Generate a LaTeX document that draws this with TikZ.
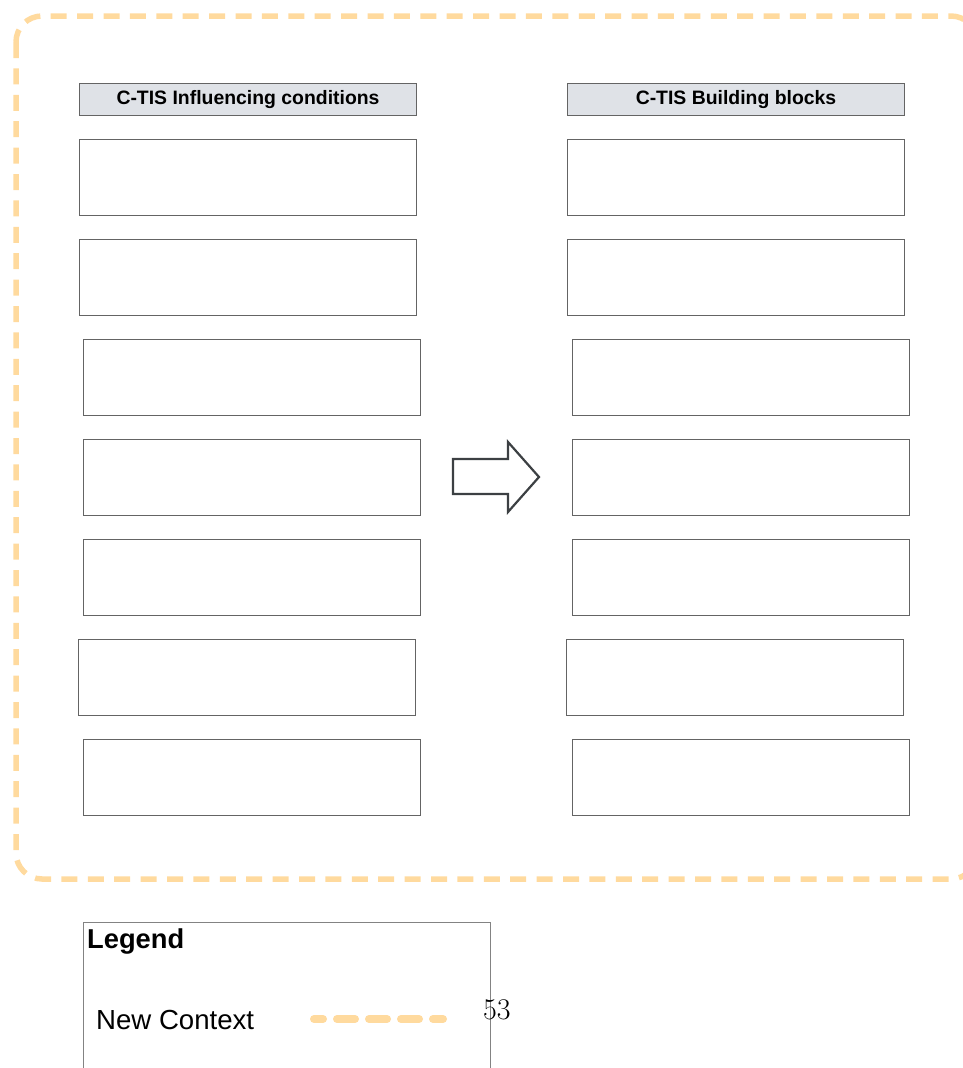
\documentclass[tikz,border=0pt]{standalone}
\usepackage{fontspec}
\newfontfamily\arial{Liberation Sans}
\definecolor{ctxorange}{RGB}{255,218,158}
\definecolor{hdrgrey}{RGB}{223,226,231}
\definecolor{edgegrey}{RGB}{100,100,100}
\definecolor{arrowgrey}{RGB}{60,64,67}
\begin{document}
\begin{tikzpicture}[x=1pt,y=-1pt,
  cbox/.style={draw=edgegrey, line width=1pt, fill=white, anchor=north west,
    minimum width=337pt, minimum height=76pt, inner sep=0pt},
  hdr/.style={cbox, fill=hdrgrey, minimum height=32pt,
    font=\arial\bfseries\fontsize{19.4}{22}\selectfont},
  context/.style={draw=ctxorange, line width=5.5pt, dash pattern=on 16pt off 10.4pt}]
\useasboundingbox (0,0) rectangle (963,1068);

% new-context frame
\draw[context, rounded corners=26pt] (16,16) rectangle (977,879);

% column headers
\node[hdr] (lhead) at (79,83) {C-TIS Influencing conditions};
\node[hdr] (rhead) at (567,83) {C-TIS Building blocks};

% empty content boxes
\foreach \i/\xl/\xr in {1/79/567, 2/79/567, 3/83/572, 4/83/572, 5/83/572, 6/78/566, 7/83/572}{
  \node[cbox] (l\i) at (\xl,{39+100*\i}) {};
  \node[cbox] (r\i) at (\xr,{39+100*\i}) {};
}

% block arrow between the columns
\draw[arrowgrey, line width=2.2pt, line join=miter, fill=white]
  (453,459) -- (508,459) -- (508,442) -- (539,477) -- (508,512) -- (508,494) -- (453,494) -- cycle;

% legend
\node[draw=edgegrey!80, line width=1pt, anchor=north west, minimum width=407pt,
  minimum height=200pt, inner sep=0pt] (legend) at (83,922) {};
\node[anchor=base west, inner sep=0pt, font=\arial\bfseries\fontsize{27.3}{31}\selectfont]
  (legendtitle) at (87,948) {Legend};
\node[anchor=base west, inner sep=0pt, font=\arial\fontsize{27.6}{32}\selectfont]
  (newctx) at (96,1029) {New Context};
\coordinate (sampleA) at (314,1019);
\coordinate (sampleB) at (443,1019);
\draw[ctxorange, line width=8pt, line cap=round, dash pattern=on 18pt off 14pt, dash phase=9pt]
  (sampleA) -- (sampleB);

% page number
\node[anchor=west, inner sep=0pt, font=\fontsize{30}{36}\selectfont] (pagenum) at (483,1010) {53};
\end{tikzpicture}
\end{document}
